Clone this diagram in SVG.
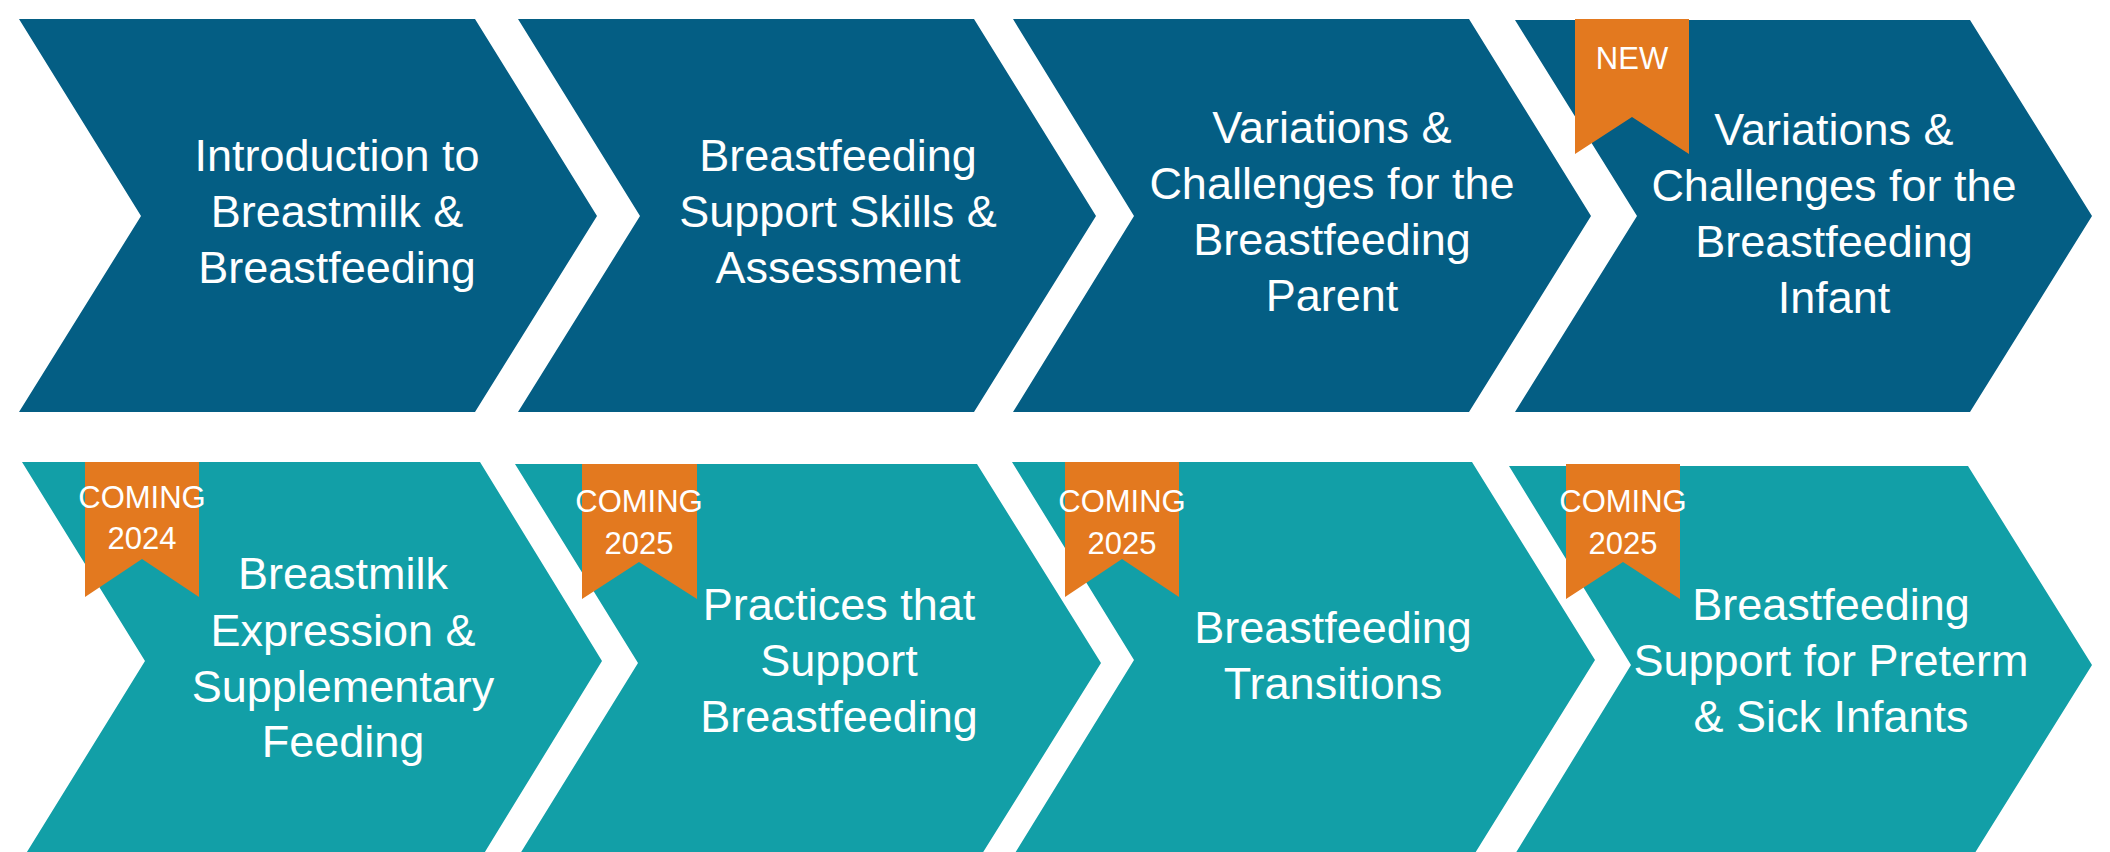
<svg xmlns="http://www.w3.org/2000/svg" width="2110" height="852" viewBox="0 0 2110 852">
<style>
.dark{fill:#045E84}
.teal{fill:#129FA7}
.rib{fill:#E3791F}
.lbl{font-family:"Liberation Sans",Arial,sans-serif;font-size:45px;fill:#fff;text-anchor:middle}
.tag{font-family:"Liberation Sans",Arial,sans-serif;font-size:31px;fill:#fff;text-anchor:middle}
</style>
<rect width="2110" height="852" fill="#fff"/>
<g id="connectors"/>
<g id="node1">
<polygon class="dark" points="19,19 475,19 597,216 475,412 19,412 141,216"/>
<text class="lbl" x="337" y="171">Introduction to</text>
<text class="lbl" x="337" y="227">Breastmilk &amp;</text>
<text class="lbl" x="337" y="283">Breastfeeding</text>
</g>
<g id="node2">
<polygon class="dark" points="518,19 974,19 1096,216 974,412 518,412 640,216"/>
<text class="lbl" x="838" y="171">Breastfeeding</text>
<text class="lbl" x="838" y="227">Support Skills &amp;</text>
<text class="lbl" x="838" y="283">Assessment</text>
</g>
<g id="node3">
<polygon class="dark" points="1013,19 1469,19 1591,216 1469,412 1013,412 1134,216"/>
<text class="lbl" x="1332" y="143">Variations &amp;</text>
<text class="lbl" x="1332" y="199">Challenges for the</text>
<text class="lbl" x="1332" y="255">Breastfeeding</text>
<text class="lbl" x="1332" y="311">Parent</text>
</g>
<g id="node4">
<polygon class="dark" points="1515,20 1970,20 2092,216 1970,412 1515,412 1637,216"/>
<polygon class="rib" points="1575,19 1689,19 1689,154 1632,117 1575,154"/>
<text class="tag" x="1632" y="69">NEW</text>
<text class="lbl" x="1834" y="145">Variations &amp;</text>
<text class="lbl" x="1834" y="201">Challenges for the</text>
<text class="lbl" x="1834" y="257">Breastfeeding</text>
<text class="lbl" x="1834" y="313">Infant</text>
</g>
<g id="node5">
<polygon class="teal" points="22,462 480,462 602,661 480,860 22,860 145,661"/>
<polygon class="rib" points="85,462 199,462 199,597 142,559 85,597"/>
<text class="tag" x="142" y="508">COMING</text>
<text class="tag" x="142" y="549">2024</text>
<text class="lbl" x="343" y="589">Breastmilk</text>
<text class="lbl" x="343" y="646">Expression &amp;</text>
<text class="lbl" x="343" y="702">Supplementary</text>
<text class="lbl" x="343" y="757">Feeding</text>
</g>
<g id="node6">
<polygon class="teal" points="515,464 977,464 1101,663 977,862 515,862 638,663"/>
<polygon class="rib" points="582,464 697,464 697,599 639,562 582,599"/>
<text class="tag" x="639" y="512">COMING</text>
<text class="tag" x="639" y="554">2025</text>
<text class="lbl" x="839" y="620">Practices that</text>
<text class="lbl" x="839" y="676">Support</text>
<text class="lbl" x="839" y="732">Breastfeeding</text>
</g>
<g id="node7">
<polygon class="teal" points="1012,462 1472,462 1595,660 1472,858 1012,858 1134,660"/>
<polygon class="rib" points="1065,462 1179,462 1179,597 1122,559 1065,597"/>
<text class="tag" x="1122" y="512">COMING</text>
<text class="tag" x="1122" y="554">2025</text>
<text class="lbl" x="1333" y="643">Breastfeeding</text>
<text class="lbl" x="1333" y="699">Transitions</text>
</g>
<g id="node8">
<polygon class="teal" points="1509,466 1968,466 2092,665 1968,864 1509,864 1631,665"/>
<polygon class="rib" points="1566,464 1680,464 1680,599 1623,562 1566,599"/>
<text class="tag" x="1623" y="512">COMING</text>
<text class="tag" x="1623" y="554">2025</text>
<text class="lbl" x="1831" y="620">Breastfeeding</text>
<text class="lbl" x="1831" y="676">Support for Preterm</text>
<text class="lbl" x="1831" y="732">&amp; Sick Infants</text>
</g>
</svg>
